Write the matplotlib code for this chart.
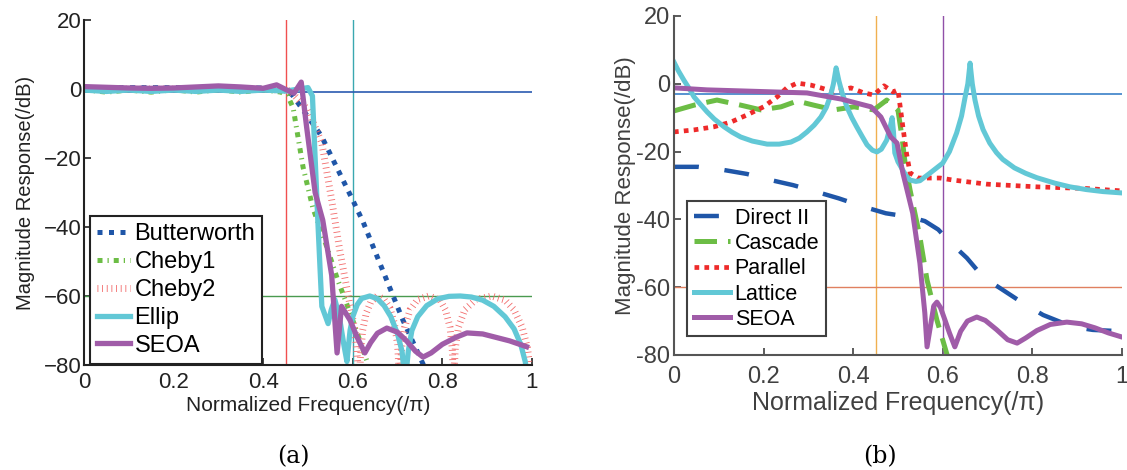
import matplotlib
matplotlib.use("Agg")
from matplotlib import pyplot as plt

# ---- panel (a): classical IIR designs ----
f_butter = [0, 0.1, 0.2, 0.3, 0.4, 0.45, 0.465, 0.53, 0.6, 0.623, 0.712, 0.765]
butter = [0.4, 0.4, 0.4, 0.4, 0.3, -0.3, -1.7, -13.6, -32.2, -38.5, -67, -82]

f_cheby1 = [0, 0.05, 0.1, 0.15, 0.2, 0.25, 0.3, 0.35, 0.4, 0.44, 0.455, 0.467,
            0.489, 0.511, 0.54, 0.565, 0.6, 0.631, 0.64]
cheby1 = [-0.2, -0.9, -0.3, -0.9, -0.2, -0.9, -0.2, -0.9, -0.2, -0.9, -2, -5.5,
          -22.6, -34.5, -45, -54.8, -67, -78.6, -82]

f_cheby2 = [0, 0.2, 0.4, 0.46, 0.5, 0.531, 0.553, 0.571, 0.59, 0.605, 0.615,
            0.617, 0.622, 0.63, 0.64, 0.655, 0.67, 0.683, 0.693, 0.7, 0.705,
            0.709, 0.716, 0.728, 0.745, 0.77, 0.795, 0.807, 0.817, 0.822, 0.825,
            0.829, 0.836, 0.85, 0.875, 0.91, 0.94, 0.96, 0.978, 0.99, 1.0]
cheby2 = [0, 0, 0, -0.5, -6, -15.7, -32.2, -46.7, -60, -70, -85,
          -78, -70, -65, -61.8, -60, -61, -63.5, -68, -74, -85,
          -75, -69, -64, -61, -60, -61.2, -64, -69, -75, -85,
          -75, -69, -64, -61, -60, -61.2, -64, -69, -75, -85]

f_ellip = [0, 0.05, 0.1, 0.15, 0.2, 0.25, 0.3, 0.35, 0.4, 0.45, 0.5, 0.51, 0.516,
           0.522, 0.527, 0.531, 0.545, 0.552, 0.56, 0.57, 0.58, 0.587,
           0.594, 0.6, 0.61, 0.62, 0.638, 0.655, 0.67, 0.685, 0.7, 0.71, 0.717,
           0.724, 0.732, 0.745, 0.765, 0.79, 0.815, 0.84, 0.865, 0.89, 0.915,
           0.94, 0.96, 0.975, 0.985, 0.992]
ellip = [-0.3, -0.7, -0.3, -0.7, -0.3, -0.7, -0.3, -0.7, -0.3, -0.6, 0.4, -2, -20,
         -38, -52, -63, -68, -64, -61, -66, -74, -79,
         -70, -66, -62.5, -60.7, -60, -60.8, -62.8, -66, -71, -76, -85,
         -76, -70, -66, -62.8, -60.8, -60.1, -60, -60.3, -61.2, -63,
         -66, -69.5, -74, -79, -85]

f_seoa_a = [0, 0.05, 0.1, 0.15, 0.2, 0.25, 0.3, 0.35, 0.4, 0.43, 0.453, 0.469,
            0.485, 0.497, 0.516, 0.533, 0.553, 0.565, 0.575, 0.594, 0.61, 0.627,
            0.64, 0.655, 0.676, 0.7, 0.72, 0.74, 0.757, 0.775, 0.8, 0.83, 0.855,
            0.89, 0.92, 0.95, 0.988]
seoa_a = [0.7, 0.5, 0.3, 0.2, 0.3, 0.6, 0.9, 0.6, 0.2, 1.2, -0.3, -1.2,
          2.0, -11, -30, -38, -54, -76.5, -63, -67, -72, -76.5,
          -73.5, -70.8, -69.3, -70.5, -73, -76, -77.7, -76.5, -74, -72, -70.7,
          -71, -72, -73, -74.7]

# ---- panel (b): filter structures ----
f_direct = [0, 0.054, 0.11, 0.163, 0.216, 0.266, 0.319, 0.368, 0.424, 0.473, 0.527,
            0.56, 0.59, 0.616, 0.654, 0.69, 0.734, 0.779, 0.824, 0.89, 0.935, 1.0]
direct = [-24.5, -24.5, -25.4, -26.6, -28.4, -29.9, -31.9, -33.8, -36.3, -38.2, -39.3,
          -40.5, -43, -46.7, -51.4, -57, -60.8, -64.7, -68.2, -71.7, -72.6, -73]

f_cascade = [0, 0.045, 0.096, 0.149, 0.194, 0.239, 0.275, 0.312, 0.357, 0.402, 0.446,
             0.475, 0.5, 0.509, 0.516, 0.527, 0.549, 0.565, 0.587, 0.612]
cascade = [-8, -6.3, -4.8, -6.3, -7.7, -6.8, -5.1, -6.3, -7.7, -6.8, -7.7,
           -4.8, -7.7, -15.7, -23.4, -31.3, -45.2, -57.9, -69.7, -81]

f_parallel = [0, 0.045, 0.089, 0.127, 0.163, 0.2, 0.23, 0.252, 0.275, 0.306, 0.328,
              0.357, 0.395, 0.424, 0.446, 0.469, 0.489, 0.5, 0.504, 0.511, 0.519,
              0.527, 0.545, 0.594, 0.623, 0.698, 0.81, 0.922, 1.0]
parallel = [-14.2, -13.6, -12.7, -11.3, -9.2, -6.8, -3.9, -1.2, 0.2, -0.4, -1.2,
            -2.4, -1.2, -2.7, -3.3, -0.6, -2.4, -1.8, -5.7, -12.7, -20.4,
            -26.3, -27.8, -27.8, -28.4, -29.6, -30.4, -30.9, -31.6]

f_lattice = [0, 0.01, 0.022, 0.035, 0.045, 0.06, 0.074, 0.09, 0.112, 0.13, 0.149,
             0.175, 0.208, 0.235, 0.261, 0.28, 0.297, 0.313, 0.328, 0.34, 0.35,
             0.356, 0.362, 0.368, 0.375, 0.386, 0.397, 0.408, 0.42, 0.431, 0.443,
             0.453, 0.463, 0.475, 0.483, 0.487, 0.49, 0.493, 0.5, 0.511, 0.52,
             0.527, 0.54, 0.549, 0.57, 0.6, 0.615, 0.631, 0.642, 0.65, 0.656,
             0.661, 0.666, 0.672, 0.68, 0.69, 0.705, 0.72, 0.734, 0.76, 0.785,
             0.81, 0.85, 0.884, 0.92, 0.958, 1.0]
lattice = [6.4, 3.8, 1.1, -1.6, -3.9, -6.2, -8.3, -10.4, -12.7, -14.3, -15.7,
           -16.9, -17.8, -17.8, -17.2, -16, -14.2, -12.2, -9.8, -7, -3.3,
           0, 4.7, 1, -2.5, -6.8, -10, -12.7, -15.5, -18, -19.6,
           -20.1, -19.3, -16.6, -12.5, -10, -14, -20.4, -23, -25.5, -27.5,
           -28.4, -28.8, -28.6, -26.5, -23.4, -20, -14.5, -9.5, -3.9, 0,
           6.1, 0, -4.8, -9.5, -13.5, -17.5, -20.3, -22.3, -24.8, -26.4,
           -27.7, -29.3, -30.4, -31.2, -31.8, -32.2]

f_seoa_b = [0, 0.074, 0.149, 0.223, 0.297, 0.335, 0.373, 0.408, 0.44, 0.462, 0.484,
            0.498, 0.511, 0.533, 0.549, 0.56, 0.565, 0.58, 0.587, 0.595, 0.605,
            0.615, 0.627, 0.64, 0.655, 0.676, 0.695, 0.72, 0.745, 0.766, 0.785,
            0.81, 0.84, 0.877, 0.91, 0.94, 0.97, 1.0]
seoa_b = [-1.2, -1.8, -2.1, -2.4, -2.7, -3.6, -4.5, -5.7, -6.8, -9.8, -15.7,
          -17.5, -26.3, -38.2, -52.9, -67.6, -77.6, -65.5, -64.4, -66, -69.7,
          -73.5, -77.6, -73, -70, -68.8, -69.8, -72.5, -75.5, -76.5, -75,
          -72.8, -71, -70.3, -70.8, -72, -73.5, -74.7]

xticks = [0, 0.2, 0.4, 0.6, 0.8, 1]
xtick_labels = ["0", "0.2", "0.4", "0.6", "0.8", "1"]
yticks = [-80, -60, -40, -20, 0, 20]

sans = ["Liberation Sans", "DejaVu Sans"]

fig = plt.figure(figsize=(11.27, 4.7), dpi=100)
ax1 = fig.add_axes([0.0745, 0.2234, 0.3975, 0.734])
ax2 = fig.add_axes([0.598, 0.2447, 0.3975, 0.7213])

# reference lines (a)
ax1.axvline(0.45, color="#f05050", lw=1)
ax1.axvline(0.6, color="#3aa8b0", lw=1)
ax1.axhline(-1, color="#2a5ab0", lw=1.2)
ax1.axhline(-60, color="#4a9a50", lw=1)

ax1.plot(f_butter, butter, color="#1f56a8", lw=3.6, dashes=(1, 1.3), label="Butterworth")
ax1.plot(f_cheby1, cheby1, color="#6cbd45", lw=3.6, dashes=(1, 1.0, 0.25, 1.0), label="Cheby1")
ax1.plot(f_cheby2, cheby2, color="#f26a6a", lw=5, dashes=(0.12, 0.55), label="Cheby2")
ax1.plot(f_ellip, ellip, color="#62c8d6", lw=3.8, label="Ellip")
ax1.plot(f_seoa_a, seoa_a, color="#a05ca8", lw=3.8, label="SEOA")

ax1.set_xlim(0, 1)
ax1.set_ylim(-80, 20)
ax1.set_xticks(xticks)
ax1.set_xticklabels(xtick_labels)
ax1.set_yticks(yticks)
ax1.set_yticklabels(["\u221280", "\u221260", "\u221240", "\u221220", "0", "20"])
for s in ["top", "right"]:
    ax1.spines[s].set_visible(False)
for s in ["left", "bottom"]:
    ax1.spines[s].set_linewidth(1.5)
    ax1.spines[s].set_color("#222222")
ax1.tick_params(direction="in", length=5, width=1.2, colors="#222222", labelsize=16, pad=2)
ax1.tick_params(axis="x", pad=5)
for t in ax1.get_xticklabels() + ax1.get_yticklabels():
    t.set_family(sans)
ax1.set_xlabel("Normalized Frequency(/\u03c0)", fontsize=15, family=sans, color="#222222", labelpad=2)
ax1.set_ylabel("Magnitude Response(/dB)", fontsize=14.5, family=sans, color="#222222", labelpad=6)
leg1 = ax1.legend(loc="lower left", bbox_to_anchor=(0.01, 0.0), prop={"family": sans, "size": 17},
                  frameon=True, fancybox=False, handlelength=1.4, handletextpad=0.2,
                  labelspacing=0.25, borderpad=0.3, borderaxespad=0.05)
leg1.get_frame().set_edgecolor("#222222")
leg1.get_frame().set_linewidth(1.5)
leg1.get_frame().set_alpha(1)

# reference lines (b)
ax2.axvline(0.45, color="#f0b050", lw=1)
ax2.axvline(0.6, color="#9050a8", lw=1)
ax2.axhline(-3, color="#3a80c8", lw=1.2)
ax2.axhline(-60, color="#e08060", lw=1)

ax2.plot(f_direct, direct, color="#1f56a8", lw=3.2, dashes=(5.6, 5.8), label="Direct II")
ax2.plot(f_cascade, cascade, color="#6cbd45", lw=3.6, dashes=(4.5, 2.2), label="Cascade")
ax2.plot(f_parallel, parallel, color="#ee2a2a", lw=3.4, dashes=(1, 1.1), label="Parallel")
ax2.plot(f_lattice, lattice, color="#62c8d6", lw=3.6, label="Lattice")
ax2.plot(f_seoa_b, seoa_b, color="#a05ca8", lw=3.6, label="SEOA")

ax2.set_xlim(0, 1)
ax2.set_ylim(-80, 20)
ax2.set_xticks(xticks)
ax2.set_xticklabels(xtick_labels)
ax2.set_yticks(yticks)
ax2.set_yticklabels(["-80", "-60", "-40", "-20", "0", "20"])
for s in ["top", "right"]:
    ax2.spines[s].set_visible(False)
for s in ["left", "bottom"]:
    ax2.spines[s].set_linewidth(1.5)
    ax2.spines[s].set_color("#555555")
ax2.tick_params(direction="in", length=5, width=1.2, colors="#404040", labelsize=17, pad=3)
ax2.tick_params(axis="x", pad=8)
for t in ax2.get_xticklabels() + ax2.get_yticklabels():
    t.set_family(sans)
ax2.set_xlabel("Normalized Frequency(/\u03c0)", fontsize=18, family=sans, color="#404040", labelpad=2)
ax2.set_ylabel("Magnitude Response(/dB)", fontsize=16, family=sans, color="#404040", labelpad=0)
leg2 = ax2.legend(loc="lower left", bbox_to_anchor=(0.03, 0.055), prop={"family": sans, "size": 15.5},
                  frameon=True, fancybox=False, handlelength=1.7, handletextpad=0.2,
                  labelspacing=0.2, borderpad=0.3, borderaxespad=0.0)
leg2.get_frame().set_edgecolor("#404040")
leg2.get_frame().set_linewidth(1.5)
leg2.get_frame().set_alpha(1)

fig.text(0.26, 0.015, "(a)", fontsize=17, family=["DejaVu Serif"], ha="center")
fig.text(0.781, 0.015, "(b)", fontsize=17, family=["DejaVu Serif"], ha="center")

fig.savefig("out.png", dpi=100)
